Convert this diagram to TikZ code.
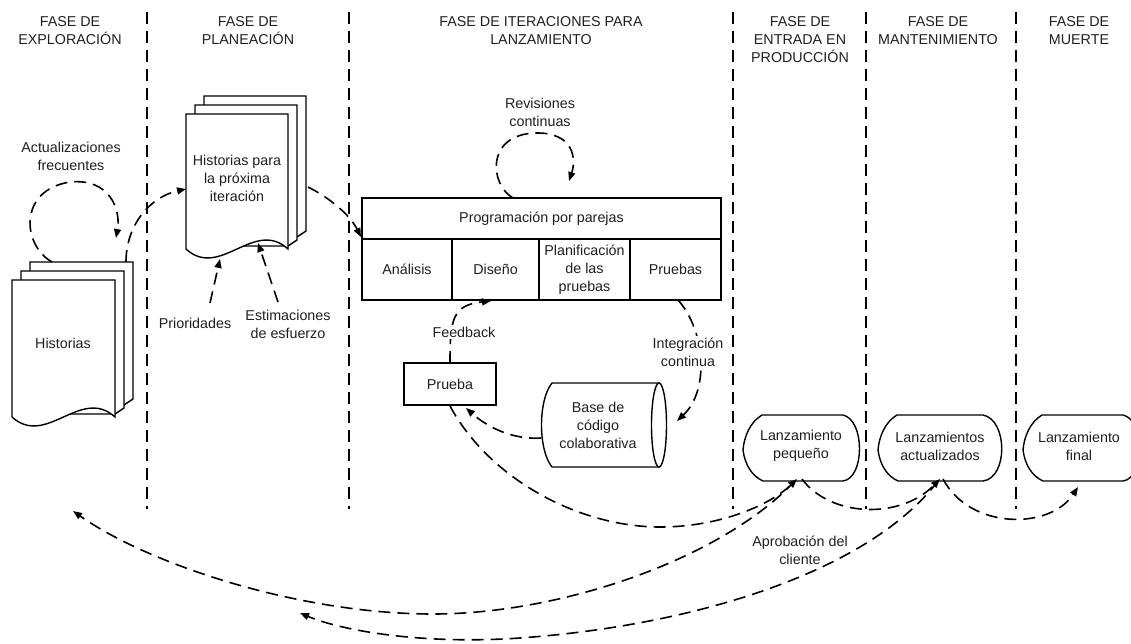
\documentclass[tikz,border=0pt]{standalone}
\usepackage{fontspec}
\setmainfont{Liberation Sans}
\usetikzlibrary{arrows.meta}

% stack of three sheets with a wavy bottom edge:
% #1 left, #2 top, #3 width, #4 bottom of the front sheet
\newcommand{\docstack}[4]{%
  \foreach \k in {2,1} {
    \pgfmathsetmacro\xl{#1+9*\k}
    \pgfmathsetmacro\yt{#2-9*\k}
    \pgfmathsetmacro\xr{#1+#3+9*\k}
    \pgfmathsetmacro\yb{#4-9*\k}
    \pgfmathsetmacro\xp{#1+#3+9*(\k-1)}
    \pgfmathsetmacro\yp{#4-9*(\k-1)-3}
    \path[outl] (\xl,\yt) -- (\xr,\yt) -- (\xr,\yb) -- (\xp,\yp) -- (\xl,\yp) -- cycle;
  }
  \path[outl] (#1,#2) -- (#1+#3,#2) -- (#1+#3,#4)
     .. controls (#1+0.667*#3,#4-31) and (#1+0.333*#3,#4+31) .. (#1,#4) -- cycle;
}

% display shape: #1 left point x, #2 top-left x, #3 top-right x, #4 right-most x
\newcommand{\displayshape}[4]{%
  \path[outl] (#2,415) -- (#3,415)
     .. controls (#4+5,420) and (#4+5,478) .. (#3,481)
     -- (#2+1,481)
     .. controls (#2-10,476) and (#1+2,465) .. (#1,450)
     .. controls (#1+1,437) and (#2-12,422) .. (#2,415) -- cycle;
}

\begin{document}
\begin{tikzpicture}[x=1pt,y=-1pt,
  txt/.style={align=center, font=\fontsize{14.3}{18}\selectfont, text=black!88, inner sep=1pt},
  outl/.style={draw=black, line width=1.4pt, fill=white, line join=miter},
  cell/.style={outl, align=center, font=\fontsize{14.3}{18}\selectfont, text=black!88, inner sep=1pt},
  phase/.style={draw=black, line width=1.6pt, dash pattern=on 12pt off 7pt},
  dashline/.style={draw=black, line width=1.6pt, dash pattern=on 12pt off 7pt},
  flow/.style={dashline, -{Triangle[length=9pt,width=7pt]}},
  lbl/.style={txt, fill=white, inner sep=2pt}
]
\useasboundingbox (0,0) rectangle (1131,644);

% phase separators
\foreach \x/\n in {147/a,349/b,733/c,866/d,1016/e} {
  \coordinate (sep\n top) at (\x,12);
  \coordinate (sep\n bot) at (\x,509);
  \draw[phase] (sep\n top) -- (sep\n bot);
}

% phase headers
\node[txt] (hExp)  at (70,31)   {FASE DE\\EXPLORACIÓN};
\node[txt] (hPlan) at (248,31)  {FASE DE\\PLANEACIÓN};
\node[txt] (hIter) at (541,31)  {FASE DE ITERACIONES PARA\\LANZAMIENTO};
\node[txt] (hProd) at (800,40)  {FASE DE\\ENTRADA EN\\PRODUCCIÓN};
\node[txt] (hMant) at (938,31)  {FASE DE\\MANTENIMIENTO};
\node[txt] (hMuer) at (1079,31) {FASE DE\\MUERTE};

% story stacks
\docstack{12}{280}{103}{417}
\node[txt] (hist) at (63,343) {Historias};
\docstack{186}{114}{102}{249}
\node[txt] (hpara) at (237,178) {Historias para\\la próxima\\iteración};

% exploration loop
\node[txt] (actu) at (71,156) {Actualizaciones\\frecuentes};
\coordinate (histLoopA) at (52,262);
\coordinate (histLoopB) at (116,238);
\draw[flow] (histLoopA) .. controls (22,245) and (18,190) .. (70,182)
                         .. controls (110,178) and (121,210) .. (histLoopB);

% exploration -> planning
\coordinate (histOut) at (126,262);
\coordinate (hparaIn) at (186,189);
\draw[flow] (histOut) .. controls (126,225) and (150,197) .. (hparaIn);

% planning inputs
\node[txt] (prio) at (195,323) {Prioridades};
\node[txt] (esti) at (288,324) {Estimaciones\\de esfuerzo};
\coordinate (prioS) at (210,303);
\coordinate (prioT) at (220,259);
\coordinate (estiS) at (278,302);
\coordinate (estiT) at (258,243);
\draw[flow] (prioS) -- (prioT);
\draw[flow] (estiS) -- (estiT);

% pair programming block
\node[cell, minimum width=359pt, minimum height=41pt] (prog) at (541.5,218.5) {Programación por parejas};
\node[cell, minimum width=90pt, minimum height=61pt] (anal) at (407,269.5) {Análisis};
\node[cell, minimum width=87pt, minimum height=61pt] (dise) at (495.5,269.5) {Diseño};
\node[cell, minimum width=91pt, minimum height=61pt] (plan) at (584.5,269.5) {Planificación\\de las\\pruebas};
\node[cell, minimum width=91pt, minimum height=61pt] (prue) at (675.5,269.5) {Pruebas};

% planning -> iterations
\coordinate (hparaOut) at (308,187);
\coordinate (progIn) at (361,237);
\draw[flow] (hparaOut) .. controls (330,198) and (350,215) .. (progIn);

% continuous reviews loop
\node[txt] (revi) at (540,112) {Revisiones\\continuas};
\coordinate (reviA) at (513,198);
\coordinate (reviB) at (569,181);
\draw[flow] (reviA) .. controls (490,185) and (485,135) .. (535,133)
                    .. controls (575,132) and (576,160) .. (reviB);

% test box and shared code base
\node[cell, minimum width=92pt, minimum height=42pt] (prueba) at (450,384) {Prueba};
\path[outl] (552,383) -- (659,383) -- (659,467) -- (552,467)
   .. controls (538,450) and (538,400) .. (552,383) -- cycle;
\draw[outl] (659,425) ellipse [x radius=7.5, y radius=42];
\node[txt] (base) at (598,425) {Base de\\código\\colaborativa};

% feedback
\coordinate (prueTop) at (450,363);
\coordinate (diseBot) at (491,301);
\draw[flow] (prueTop) .. controls (450,320) and (452,305) .. (diseBot);
\node[lbl] (feed) at (464,332) {Feedback};

% continuous integration
\coordinate (prueBot) at (678,300);
\coordinate (baseIn) at (677,421);
\draw[flow] (prueBot) .. controls (705,330) and (710,390) .. (baseIn);
\node[lbl] (inte) at (688,352) {Integración\\continua};

% code base -> test
\coordinate (baseOut) at (541,438);
\coordinate (pruebaIn) at (466,408);
\draw[flow] (baseOut) .. controls (510,440) and (485,425) .. (pruebaIn);

% releases
\displayshape{743}{762}{843}{860}
\node[txt] (lpeq) at (801,446) {Lanzamiento\\pequeño};
\displayshape{878}{897}{983}{1003}
\node[txt] (lact) at (940,446) {Lanzamientos\\actualizados};
\displayshape{1023}{1042}{1123}{1140}
\node[txt] (lfin) at (1079,446) {Lanzamiento\\final};

\coordinate (pruebaOut) at (450,406);
\coordinate (lpeqIn) at (797,479);
\coordinate (lpeqOut) at (802,479);
\coordinate (lactIn) at (940,479);
\coordinate (lactOut) at (943,479);
\coordinate (lfinIn) at (1078,487);
\draw[flow] (pruebaOut) .. controls (490,480) and (580,527) .. (660,527)
                        .. controls (720,527) and (770,505) .. (lpeqIn);
\draw[flow] (lpeqOut) .. controls (830,517) and (900,520) .. (lactIn);
\draw[flow] (lactOut) .. controls (970,530) and (1050,530) .. (lfinIn);

% customer approval feeds back
\coordinate (explBack) at (73,511);
\coordinate (planBack) at (300,613);
\coordinate (lpeqBack) at (795,481);
\coordinate (lactBack) at (938,481);
\draw[flow] (lpeqBack) .. controls (720,560) and (560,614) .. (433,614)
                       .. controls (300,614) and (150,565) .. (explBack);
\draw[flow] (lactBack) .. controls (870,570) and (700,625) .. (520,638)
                       .. controls (420,645) and (340,630) .. (planBack);
\node[txt] (apro) at (800,550) {Aprobación del\\cliente};

\end{tikzpicture}
\end{document}
